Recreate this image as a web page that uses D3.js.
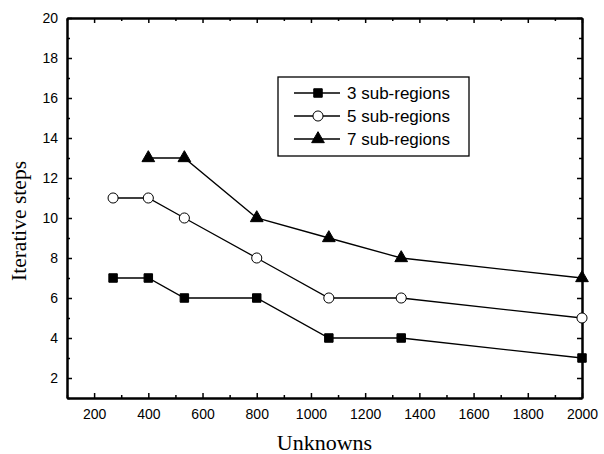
<!DOCTYPE html>
<html>
<head>
<meta charset="utf-8">
<script src="https://cdn.jsdelivr.net/npm/d3@7"></script>
<style>
  body { margin: 0; background: #fff; }
  svg { display: block; }
</style>
</head>
<body>
<div id="chart"></div>
<script>
const xUnknowns3 = [270, 400, 533, 800, 1066, 1333, 2000];
const steps3 = [7, 7, 6, 6, 4, 4, 3];
const xUnknowns5 = [270, 400, 533, 800, 1066, 1333, 2000];
const steps5 = [11, 11, 10, 8, 6, 6, 5];
const xUnknowns7 = [400, 533, 800, 1066, 1333, 2000];
const steps7 = [13, 13, 10, 9, 8, 7];
const seriesNames = ["3 sub-regions", "5 sub-regions", "7 sub-regions"];
const xTickValues = [200, 400, 600, 800, 1000, 1200, 1400, 1600, 1800, 2000];
const yTickValues = [2, 4, 6, 8, 10, 12, 14, 16, 18, 20];

const width = 604, height = 454;
const margin = { left: 67, right: 22, top: 18, bottom: 56 };

const svg = d3.select("#chart").append("svg")
  .attr("width", width).attr("height", height);

const x = d3.scaleLinear().domain([100, 2000]).range([margin.left, width - margin.right]);
const y = d3.scaleLinear().domain([1, 20]).range([height - margin.bottom, margin.top]);

const tickFont = "Liberation Sans, Arial, sans-serif";
const serifFont = "Liberation Serif, Times New Roman, serif";
const minorX = d3.range(100, 2001, 100).filter(v => v % 200 !== 0);
const minorY = d3.range(1, 20, 2);
const fmt = d3.format("d");

// bottom axis
const gx = svg.append("g").attr("transform", `translate(0,${y.range()[0]})`);
gx.call(d3.axisBottom(x).tickValues(xTickValues).tickFormat(fmt).tickSizeInner(-5).tickSizeOuter(0).tickPadding(11));
gx.append("g").call(d3.axisBottom(x).tickValues(minorX).tickSizeInner(-3).tickSizeOuter(0).tickFormat(""));
// top axis
const gxt = svg.append("g").attr("transform", `translate(0,${y.range()[1]})`);
gxt.call(d3.axisTop(x).tickValues(xTickValues).tickSizeInner(-5).tickSizeOuter(0).tickFormat(""));
gxt.append("g").call(d3.axisTop(x).tickValues(minorX).tickSizeInner(-3).tickSizeOuter(0).tickFormat(""));
// left axis
const gy = svg.append("g").attr("transform", `translate(${x.range()[0]},0)`);
gy.call(d3.axisLeft(y).tickValues(yTickValues).tickFormat(fmt).tickSizeInner(-5).tickSizeOuter(0).tickPadding(9));
gy.append("g").call(d3.axisLeft(y).tickValues(minorY).tickSizeInner(-3).tickSizeOuter(0).tickFormat(""));
// right axis
const gyr = svg.append("g").attr("transform", `translate(${x.range()[1]},0)`);
gyr.call(d3.axisRight(y).tickValues(yTickValues).tickSizeInner(-5).tickSizeOuter(0).tickFormat(""));
gyr.append("g").call(d3.axisRight(y).tickValues(minorY).tickSizeInner(-3).tickSizeOuter(0).tickFormat(""));

svg.selectAll(".domain").attr("stroke", "#000").attr("stroke-width", 2);
svg.selectAll(".tick line").attr("stroke", "#000").attr("stroke-width", 1.5);
svg.selectAll(".tick text").attr("font-family", tickFont).attr("font-size", 14).attr("fill", "#000");

// axis titles
svg.append("text")
  .attr("x", (x.range()[0] + x.range()[1]) / 2).attr("y", 450)
  .attr("text-anchor", "middle")
  .attr("font-family", serifFont).attr("font-size", 22)
  .text("Unknowns");
svg.append("text")
  .attr("transform", "translate(26,221) rotate(-90)")
  .attr("text-anchor", "middle")
  .attr("font-family", serifFont).attr("font-size", 21.5)
  .text("Iterative steps");

const series = [
  { name: seriesNames[0], xs: xUnknowns3, ys: steps3, sym: d3.symbolSquare, size: 72, fill: "#000" },
  { name: seriesNames[1], xs: xUnknowns5, ys: steps5, sym: d3.symbolCircle, size: 80, fill: "#fff" },
  { name: seriesNames[2], xs: xUnknowns7, ys: steps7, sym: d3.symbolTriangle, size: 70, fill: "#000" }
];

const line = d3.line().x(d => x(d[0])).y(d => y(d[1]));

series.forEach(s => {
  const pts = s.xs.map((v, i) => [v, s.ys[i]]);
  svg.append("path").datum(pts)
    .attr("d", line).attr("fill", "none").attr("stroke", "#000").attr("stroke-width", 1.3);
  svg.selectAll(null).data(pts).enter().append("path")
    .attr("transform", d => `translate(${x(d[0])},${y(d[1])})`)
    .attr("d", d3.symbol().type(s.sym).size(s.size))
    .attr("fill", s.fill).attr("stroke", "#000").attr("stroke-width", 1);
});

// legend
const legend = svg.append("g").attr("transform", "translate(278,77)");
legend.append("rect").attr("width", 191).attr("height", 79)
  .attr("fill", "#fff").attr("stroke", "#000").attr("stroke-width", 1.3);
series.forEach((s, i) => {
  const ly = 16 + i * 23;
  legend.append("line").attr("x1", 16).attr("x2", 62).attr("y1", ly).attr("y2", ly)
    .attr("stroke", "#000").attr("stroke-width", 1.3);
  legend.append("path").attr("transform", `translate(40,${ly})`)
    .attr("d", d3.symbol().type(s.sym).size(s.size))
    .attr("fill", s.fill).attr("stroke", "#000");
  legend.append("text").attr("x", 69).attr("y", ly + 6)
    .attr("font-family", tickFont).attr("font-size", 17)
    .text(s.name);
});
</script>
</body>
</html>
